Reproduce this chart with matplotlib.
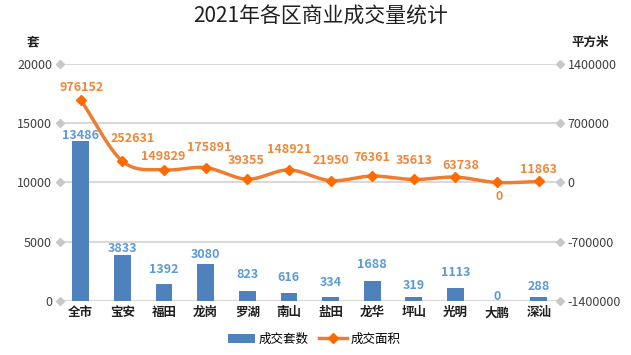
import numpy as np
import matplotlib
matplotlib.use("Agg")
import matplotlib.pyplot as plt
from matplotlib.lines import Line2D
from matplotlib.patches import Patch
from matplotlib.ticker import FuncFormatter

plt.rcParams['font.family'] = ['Noto Sans CJK SC', 'DejaVu Sans']

# data
districts = ['全市', '宝安', '福田', '龙岗', '罗湖', '南山', '盐田', '龙华', '坪山', '光明', '大鹏', '深汕']
units = [13486, 3833, 1392, 3080, 823, 616, 334, 1688, 319, 1113, 0, 288]
area = [976152, 252631, 149829, 175891, 39355, 148921, 21950, 76361, 35613, 63738, 0, 11863]

# label offsets in pixels (style only)
bar_lab_dy = [6, 7, 14.5, 10, 16, 16, 14, 16.5, 11, 15, 4, 11]
line_lab_off = [(1, 13), (10, 22.5), (-1, 13), (4, 20), (-1.5, 19), (0, 20),
                (0, 20), (0, 19), (0, 19), (5, 12), (2, -14), (0, 12)]

BAR_C = '#4F81BD'
BAR_LAB = '#5B9BD5'
LINE_C = '#ED7D31'
MARK_C = '#FF6A00'
LINE_LAB = '#F0883A'
GRID_C = '#D9D9D9'
PX = 0.72  # points per pixel at dpi 100

fig = plt.figure(figsize=(6.31, 3.55), dpi=100)
ax = fig.add_axes([60 / 631, 1 - 300.7 / 355, 499.5 / 631, 236.4 / 355])
ax2 = ax.twinx()

x = np.arange(len(districts))
ax.bar(x, units, width=0.4, color=BAR_C, zorder=3)
ax.set_xlim(-0.5, len(districts) - 0.5)
ax.set_ylim(0, 20000)
ax.set_yticks(range(0, 20001, 5000))
ax2.set_ylim(-1400000, 1400000)
ax2.set_yticks(range(-1400000, 1400001, 700000))
ax2.yaxis.set_major_formatter(FuncFormatter(lambda v, p: '%d' % v))

for a in (ax, ax2):
    for s in a.spines.values():
        s.set_visible(False)
    a.tick_params(axis='y', length=0, pad=8 * PX, labelsize=9, labelcolor='#404040')
ax.tick_params(axis='x', length=0, pad=4)
ax.set_xticks(x)
ax.set_xticklabels(districts, fontsize=9, fontweight='bold', color='#202020')

# gridlines + diamond markers at tick ends
for t in range(0, 20001, 5000):
    ax.axhline(t, color=GRID_C, lw=1.5, zorder=1)
ax.plot(np.zeros(5), list(range(0, 20001, 5000)), 'D', color='#C8C8C8', ms=4,
        transform=ax.get_yaxis_transform(), clip_on=False, zorder=4)
ax2.plot(np.ones(5), list(range(-1400000, 1400001, 700000)), 'D', color='#C8C8C8', ms=4,
         transform=ax2.get_yaxis_transform(), clip_on=False, zorder=4)

# smoothed line (Catmull-Rom through the points)
pts = np.column_stack([x, area]).astype(float)
ext = np.vstack([2 * pts[0] - pts[1], pts, 2 * pts[-1] - pts[-2]])
curve = []
for i in range(1, len(ext) - 2):
    p0, p1, p2, p3 = ext[i - 1], ext[i], ext[i + 1], ext[i + 2]
    for t in np.linspace(0, 1, 30, endpoint=False):
        t2, t3 = t * t, t * t * t
        curve.append(0.5 * ((2 * p1) + (-p0 + p2) * t + (2 * p0 - 5 * p1 + 4 * p2 - p3) * t2
                            + (-p0 + 3 * p1 - 3 * p2 + p3) * t3))
curve.append(pts[-1])
curve = np.array(curve)
ax2.plot(curve[:, 0], curve[:, 1], color=LINE_C, lw=2.5, zorder=5, solid_capstyle='round')
ax2.plot(x, area, 'D', color=MARK_C, ms=5.5, zorder=6)

# labels
for xi, v, dy in zip(x, units, bar_lab_dy):
    ax.annotate(str(v), (xi, v), xytext=(0, dy * PX), textcoords='offset points',
                ha='center', va='center', fontsize=9, fontweight='bold', color=BAR_LAB, zorder=7)
for xi, v, (dx, dy) in zip(x, area, line_lab_off):
    ax2.annotate(str(v), (xi, v), xytext=(dx * PX, dy * PX), textcoords='offset points',
                 ha='center', va='center', fontsize=9, fontweight='bold', color=LINE_LAB, zorder=7)

fig.text(321 / 631, 1 - 17 / 355, '2021年各区商业成交量统计', ha='center', va='center',
         fontsize=15, color='#202020')
fig.text(33 / 631, 1 - 42 / 355, '套', ha='center', va='center', fontsize=9,
         fontweight='bold', color='#202020')
fig.text(590 / 631, 1 - 42 / 355, '平方米', ha='center', va='center', fontsize=9,
         fontweight='bold', color='#202020')

handles = [Patch(facecolor=BAR_C, label='成交套数'),
           Line2D([], [], color=LINE_C, lw=2.5, marker='D', ms=5, mfc=MARK_C, mec=MARK_C,
                  label='成交面积')]
fig.legend(handles=handles, loc='center', bbox_to_anchor=(314 / 631, 1 - 339 / 355), ncol=2,
           frameon=False, fontsize=9, handlelength=2.2, handletextpad=0.3, columnspacing=0.8)

fig.savefig('out.png', dpi=100)
